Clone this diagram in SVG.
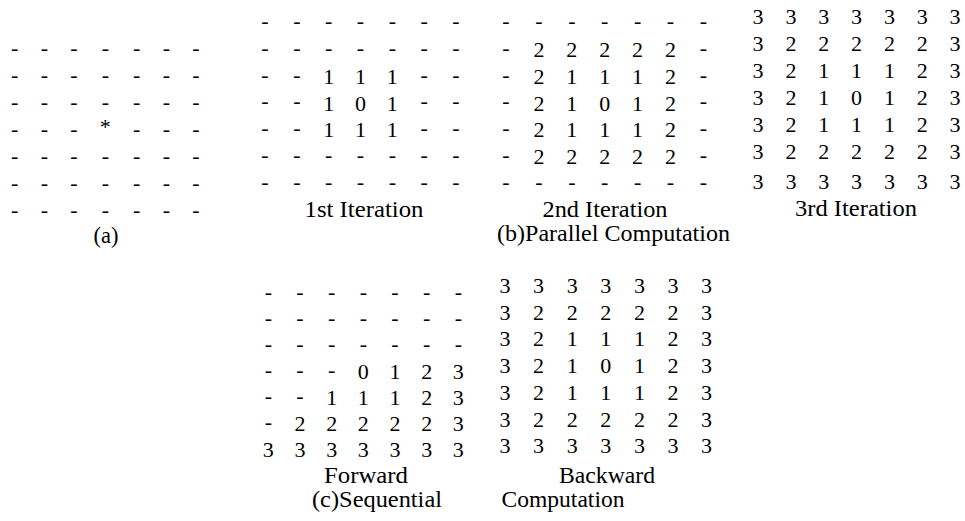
<svg xmlns="http://www.w3.org/2000/svg" width="965" height="521" viewBox="0 0 965 521">
<style>
text{font-family:"Liberation Serif","Times New Roman",serif;font-size:22px;fill:#000;text-anchor:middle}
.lbl{font-size:22.5px}
</style>
<rect width="965" height="521" fill="#fff"/>
<g id="gridA">
<text x="14.7" y="55">-</text><text x="44.3" y="55">-</text><text x="74" y="55">-</text><text x="105.3" y="55">-</text><text x="136.7" y="55">-</text><text x="166.3" y="55">-</text><text x="196" y="55">-</text>
<text x="14.7" y="82">-</text><text x="44.3" y="82">-</text><text x="74" y="82">-</text><text x="105.3" y="82">-</text><text x="136.7" y="82">-</text><text x="166.3" y="82">-</text><text x="196" y="82">-</text>
<text x="14.7" y="109">-</text><text x="44.3" y="109">-</text><text x="74" y="109">-</text><text x="105.3" y="109">-</text><text x="136.7" y="109">-</text><text x="166.3" y="109">-</text><text x="196" y="109">-</text>
<text x="14.7" y="136">-</text><text x="44.3" y="136">-</text><text x="74" y="136">-</text><text x="105.3" y="134.3">*</text><text x="136.7" y="136">-</text><text x="166.3" y="136">-</text><text x="196" y="136">-</text>
<text x="14.7" y="163">-</text><text x="44.3" y="163">-</text><text x="74" y="163">-</text><text x="105.3" y="163">-</text><text x="136.7" y="163">-</text><text x="166.3" y="163">-</text><text x="196" y="163">-</text>
<text x="14.7" y="190">-</text><text x="44.3" y="190">-</text><text x="74" y="190">-</text><text x="105.3" y="190">-</text><text x="136.7" y="190">-</text><text x="166.3" y="190">-</text><text x="196" y="190">-</text>
<text x="14.7" y="217">-</text><text x="44.3" y="217">-</text><text x="74" y="217">-</text><text x="105.3" y="217">-</text><text x="136.7" y="217">-</text><text x="166.3" y="217">-</text><text x="196" y="217">-</text>
<text class="lbl" x="106" y="243">(a)</text>
</g>
<g id="grid1">
<text x="265" y="28.3">-</text><text x="296.8" y="28.3">-</text><text x="328.7" y="28.3">-</text><text x="360.5" y="28.3">-</text><text x="392.3" y="28.3">-</text><text x="424.2" y="28.3">-</text><text x="456" y="28.3">-</text>
<text x="265" y="55">-</text><text x="296.8" y="55">-</text><text x="328.7" y="55">-</text><text x="360.5" y="55">-</text><text x="392.3" y="55">-</text><text x="424.2" y="55">-</text><text x="456" y="55">-</text>
<text x="265" y="81.7">-</text><text x="296.8" y="81.7">-</text><text x="328.7" y="84.1">1</text><text x="360.5" y="84.1">1</text><text x="392.3" y="84.1">1</text><text x="424.2" y="81.7">-</text><text x="456" y="81.7">-</text>
<text x="265" y="108.3">-</text><text x="296.8" y="108.3">-</text><text x="328.7" y="110.7">1</text><text x="360.5" y="110.7">0</text><text x="392.3" y="110.7">1</text><text x="424.2" y="108.3">-</text><text x="456" y="108.3">-</text>
<text x="265" y="135">-</text><text x="296.8" y="135">-</text><text x="328.7" y="137.4">1</text><text x="360.5" y="137.4">1</text><text x="392.3" y="137.4">1</text><text x="424.2" y="135">-</text><text x="456" y="135">-</text>
<text x="265" y="161.7">-</text><text x="296.8" y="161.7">-</text><text x="328.7" y="161.7">-</text><text x="360.5" y="161.7">-</text><text x="392.3" y="161.7">-</text><text x="424.2" y="161.7">-</text><text x="456" y="161.7">-</text>
<text x="265" y="188.5">-</text><text x="296.8" y="188.5">-</text><text x="328.7" y="188.5">-</text><text x="360.5" y="188.5">-</text><text x="392.3" y="188.5">-</text><text x="424.2" y="188.5">-</text><text x="456" y="188.5">-</text>
<text class="lbl" x="364" y="217" textLength="119" lengthAdjust="spacingAndGlyphs">1st Iteration</text>
</g>
<g id="grid2">
<text x="506" y="28.3">-</text><text x="538.9" y="28.3">-</text><text x="571.8" y="28.3">-</text><text x="604.7" y="28.3">-</text><text x="637.6" y="28.3">-</text><text x="670.5" y="28.3">-</text><text x="703.4" y="28.3">-</text>
<text x="506" y="55">-</text><text x="538.9" y="57.4">2</text><text x="571.8" y="57.4">2</text><text x="604.7" y="57.4">2</text><text x="637.6" y="57.4">2</text><text x="670.5" y="57.4">2</text><text x="703.4" y="55">-</text>
<text x="506" y="81.7">-</text><text x="538.9" y="84.1">2</text><text x="571.8" y="84.1">1</text><text x="604.7" y="84.1">1</text><text x="637.6" y="84.1">1</text><text x="670.5" y="84.1">2</text><text x="703.4" y="81.7">-</text>
<text x="506" y="108.3">-</text><text x="538.9" y="110.7">2</text><text x="571.8" y="110.7">1</text><text x="604.7" y="110.7">0</text><text x="637.6" y="110.7">1</text><text x="670.5" y="110.7">2</text><text x="703.4" y="108.3">-</text>
<text x="506" y="135">-</text><text x="538.9" y="137.4">2</text><text x="571.8" y="137.4">1</text><text x="604.7" y="137.4">1</text><text x="637.6" y="137.4">1</text><text x="670.5" y="137.4">2</text><text x="703.4" y="135">-</text>
<text x="506" y="161.7">-</text><text x="538.9" y="164.1">2</text><text x="571.8" y="164.1">2</text><text x="604.7" y="164.1">2</text><text x="637.6" y="164.1">2</text><text x="670.5" y="164.1">2</text><text x="703.4" y="161.7">-</text>
<text x="506" y="188.5">-</text><text x="538.9" y="188.5">-</text><text x="571.8" y="188.5">-</text><text x="604.7" y="188.5">-</text><text x="637.6" y="188.5">-</text><text x="670.5" y="188.5">-</text><text x="703.4" y="188.5">-</text>
<text class="lbl" x="605" y="217" textLength="125" lengthAdjust="spacingAndGlyphs">2nd Iteration</text>
<text class="lbl" x="613.5" y="241" textLength="233" lengthAdjust="spacingAndGlyphs">(b)Parallel Computation</text>
</g>
<g id="grid3">
<text x="758" y="24.1">3</text><text x="790.9" y="24.1">3</text><text x="823.7" y="24.1">3</text><text x="856.6" y="24.1">3</text><text x="889.4" y="24.1">3</text><text x="922.3" y="24.1">3</text><text x="955" y="24.1">3</text>
<text x="758" y="51.1">3</text><text x="790.9" y="51.1">2</text><text x="823.7" y="51.1">2</text><text x="856.6" y="51.1">2</text><text x="889.4" y="51.1">2</text><text x="922.3" y="51.1">2</text><text x="955" y="51.1">3</text>
<text x="758" y="78.1">3</text><text x="790.9" y="78.1">2</text><text x="823.7" y="78.1">1</text><text x="856.6" y="78.1">1</text><text x="889.4" y="78.1">1</text><text x="922.3" y="78.1">2</text><text x="955" y="78.1">3</text>
<text x="758" y="105.1">3</text><text x="790.9" y="105.1">2</text><text x="823.7" y="105.1">1</text><text x="856.6" y="105.1">0</text><text x="889.4" y="105.1">1</text><text x="922.3" y="105.1">2</text><text x="955" y="105.1">3</text>
<text x="758" y="132.1">3</text><text x="790.9" y="132.1">2</text><text x="823.7" y="132.1">1</text><text x="856.6" y="132.1">1</text><text x="889.4" y="132.1">1</text><text x="922.3" y="132.1">2</text><text x="955" y="132.1">3</text>
<text x="758" y="159.1">3</text><text x="790.9" y="159.1">2</text><text x="823.7" y="159.1">2</text><text x="856.6" y="159.1">2</text><text x="889.4" y="159.1">2</text><text x="922.3" y="159.1">2</text><text x="955" y="159.1">3</text>
<text x="758" y="188.5">3</text><text x="790.9" y="188.5">3</text><text x="823.7" y="188.5">3</text><text x="856.6" y="188.5">3</text><text x="889.4" y="188.5">3</text><text x="922.3" y="188.5">3</text><text x="955" y="188.5">3</text>
<text class="lbl" x="856" y="216" textLength="122" lengthAdjust="spacingAndGlyphs">3rd Iteration</text>
</g>
<g id="gridForward">
<text x="268.3" y="298.6">-</text><text x="300" y="298.6">-</text><text x="331.7" y="298.6">-</text><text x="363.3" y="298.6">-</text><text x="395" y="298.6">-</text><text x="426.7" y="298.6">-</text><text x="458.3" y="298.6">-</text>
<text x="268.3" y="324.6">-</text><text x="300" y="324.6">-</text><text x="331.7" y="324.6">-</text><text x="363.3" y="324.6">-</text><text x="395" y="324.6">-</text><text x="426.7" y="324.6">-</text><text x="458.3" y="324.6">-</text>
<text x="268.3" y="350.6">-</text><text x="300" y="350.6">-</text><text x="331.7" y="350.6">-</text><text x="363.3" y="350.6">-</text><text x="395" y="350.6">-</text><text x="426.7" y="350.6">-</text><text x="458.3" y="350.6">-</text>
<text x="268.3" y="376.6">-</text><text x="300" y="376.6">-</text><text x="331.7" y="376.6">-</text><text x="363.3" y="379">0</text><text x="395" y="379">1</text><text x="426.7" y="379">2</text><text x="458.3" y="379">3</text>
<text x="268.3" y="402.6">-</text><text x="300" y="402.6">-</text><text x="331.7" y="405">1</text><text x="363.3" y="405">1</text><text x="395" y="405">1</text><text x="426.7" y="405">2</text><text x="458.3" y="405">3</text>
<text x="268.3" y="428.6">-</text><text x="300" y="431">2</text><text x="331.7" y="431">2</text><text x="363.3" y="431">2</text><text x="395" y="431">2</text><text x="426.7" y="431">2</text><text x="458.3" y="431">3</text>
<text x="268.3" y="457">3</text><text x="300" y="457">3</text><text x="331.7" y="457">3</text><text x="363.3" y="457">3</text><text x="395" y="457">3</text><text x="426.7" y="457">3</text><text x="458.3" y="457">3</text>
<text class="lbl" x="366" y="483" textLength="84" lengthAdjust="spacingAndGlyphs">Forward</text>
<text class="lbl" x="377" y="507" textLength="130" lengthAdjust="spacingAndGlyphs">(c)Sequential</text>
</g>
<g id="gridBackward">
<text x="505" y="293.1">3</text><text x="538.6" y="293.1">3</text><text x="572.2" y="293.1">3</text><text x="605.8" y="293.1">3</text><text x="639.4" y="293.1">3</text><text x="673" y="293.1">3</text><text x="706.6" y="293.1">3</text>
<text x="505" y="319.7">3</text><text x="538.6" y="319.7">2</text><text x="572.2" y="319.7">2</text><text x="605.8" y="319.7">2</text><text x="639.4" y="319.7">2</text><text x="673" y="319.7">2</text><text x="706.6" y="319.7">3</text>
<text x="505" y="346.4">3</text><text x="538.6" y="346.4">2</text><text x="572.2" y="346.4">1</text><text x="605.8" y="346.4">1</text><text x="639.4" y="346.4">1</text><text x="673" y="346.4">2</text><text x="706.6" y="346.4">3</text>
<text x="505" y="373.1">3</text><text x="538.6" y="373.1">2</text><text x="572.2" y="373.1">1</text><text x="605.8" y="373.1">0</text><text x="639.4" y="373.1">1</text><text x="673" y="373.1">2</text><text x="706.6" y="373.1">3</text>
<text x="505" y="400.1">3</text><text x="538.6" y="400.1">2</text><text x="572.2" y="400.1">1</text><text x="605.8" y="400.1">1</text><text x="639.4" y="400.1">1</text><text x="673" y="400.1">2</text><text x="706.6" y="400.1">3</text>
<text x="505" y="426.7">3</text><text x="538.6" y="426.7">2</text><text x="572.2" y="426.7">2</text><text x="605.8" y="426.7">2</text><text x="639.4" y="426.7">2</text><text x="673" y="426.7">2</text><text x="706.6" y="426.7">3</text>
<text x="505" y="453.4">3</text><text x="538.6" y="453.4">3</text><text x="572.2" y="453.4">3</text><text x="605.8" y="453.4">3</text><text x="639.4" y="453.4">3</text><text x="673" y="453.4">3</text><text x="706.6" y="453.4">3</text>
<text class="lbl" x="607" y="483" textLength="96" lengthAdjust="spacingAndGlyphs">Backward</text>
<text class="lbl" x="563" y="507" textLength="123" lengthAdjust="spacingAndGlyphs">Computation</text>
</g>
<g id="connectors"/>
</svg>
